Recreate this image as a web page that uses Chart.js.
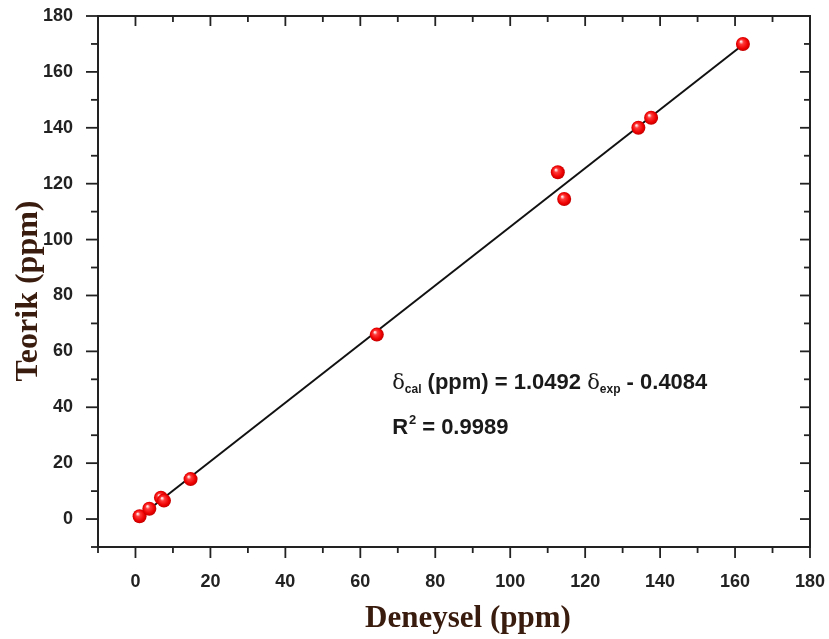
<!DOCTYPE html>
<html>
<head>
<meta charset="utf-8">
<script src="https://cdn.jsdelivr.net/npm/chart.js@4.4.1/dist/chart.umd.min.js"></script>
<style>
  html, body { margin: 0; padding: 0; background: #fff; }
  #wrap { width: 829px; height: 639px; }
</style>
</head>
<body>
<div id="wrap"><canvas id="chart" width="829" height="639"></canvas></div>
<script>
// values
const expValues = [1.1, 3.7, 6.8, 7.6, 14.7, 64.4, 112.7, 114.4, 134.2, 137.6, 162.1];
const calValues = [1.0, 3.7, 7.6, 6.6, 14.3, 66.0, 124.1, 114.5, 140.0, 143.6, 170.0];
const fitX = [1.1, 162.1];
const fitY = [0.8, 169.7];
const tickValues = [0, 20, 40, 60, 80, 100, 120, 140, 160, 180];

const xTitle = "Deneysel (ppm)";
const yTitle = "Teorik (ppm)";
const equationText = { a: "1.0492", b: "0.4084", r2: "0.9989" };

const titleColor = "#3a1c0e";
const tickColor = "#222";
const tickFont = { family: "'Liberation Sans', Arial, sans-serif", size: 18, weight: "bold" };

function sphere(ctx) {
  const chart = ctx.chart;
  const xs = chart.scales.x, ys = chart.scales.y;
  if (!xs || !ys || ctx.dataIndex === undefined) return "#e00";
  const cx = xs.getPixelForValue(expValues[ctx.dataIndex]);
  const cy = ys.getPixelForValue(calValues[ctx.dataIndex]);
  if (!Number.isFinite(cx) || !Number.isFinite(cy)) return "#e00";
  const g = chart.ctx.createRadialGradient(cx - 2, cy - 2.5, 0.5, cx, cy, 7.5);
  g.addColorStop(0, "#ffe6e6");
  g.addColorStop(0.25, "#ff3a3a");
  g.addColorStop(0.7, "#ee0000");
  g.addColorStop(1, "#b80000");
  return g;
}

// frame + ticks (major/minor): outward on left/bottom, inward on top/right
const framePlugin = {
  id: "frame",
  afterDraw(chart) {
    const { ctx, chartArea: a, scales } = chart;
    ctx.save();
    ctx.strokeStyle = tickColor;
    ctx.lineWidth = 2;
    ctx.strokeRect(a.left, a.top, a.right - a.left, a.bottom - a.top);
    ctx.lineWidth = 1.8;
    const line = (x1, y1, x2, y2) => {
      ctx.beginPath();
      ctx.moveTo(x1, y1);
      ctx.lineTo(x2, y2);
      ctx.stroke();
    };
    scales.x.ticks.forEach(t => {
      const px = scales.x.getPixelForValue(t.value);
      const major = t.value % 20 === 0;
      line(px, a.bottom, px, a.bottom + (major ? 11 : 6));
      line(px, a.top, px, a.top + (major ? 10 : 6));
    });
    scales.y.ticks.forEach(t => {
      const py = scales.y.getPixelForValue(t.value);
      const major = t.value % 20 === 0;
      line(a.left, py, a.left - (major ? 12 : 7), py);
      line(a.right, py, a.right - (major ? 10 : 6), py);
    });
    ctx.restore();
  }
};

// axis titles
const titlesPlugin = {
  id: "titles",
  afterDraw(chart) {
    const { ctx } = chart;
    ctx.save();
    ctx.fillStyle = titleColor;
    ctx.textAlign = "center";
    ctx.textBaseline = "alphabetic";
    ctx.font = "bold 31px 'Liberation Serif', 'Times New Roman', serif";
    ctx.fillText(xTitle, 468, 627);
    ctx.translate(37, 291);
    ctx.rotate(-Math.PI / 2);
    ctx.font = "bold 32px 'Liberation Serif', 'Times New Roman', serif";
    ctx.fillText(yTitle, 0, 0);
    ctx.restore();
  }
};

// equation text
const equationPlugin = {
  id: "equation",
  afterDraw(chart) {
    const { ctx, scales } = chart;
    const x0 = scales.x.getPixelForValue(68.5);
    let x = x0;
    const y1 = scales.y.getPixelForValue(46.7);
    const y2 = scales.y.getPixelForValue(30.4);
    ctx.save();
    ctx.fillStyle = "#1a1a1a";
    ctx.textBaseline = "alphabetic";
    const big = "bold 22px 'Liberation Sans', Arial, sans-serif";
    const sym = "21px 'DejaVu Serif', serif";
    const sub = "bold 12px 'Liberation Sans', Arial, sans-serif";
    const parts = [
      [sym, "δ", 0], [sub, "cal", 4], [big, " (ppm) = " + equationText.a + " ", 0],
      [sym, "δ", 0], [sub, "exp", 4], [big, " - " + equationText.b, 0]
    ];
    parts.forEach(([f, s, dy]) => {
      ctx.font = f;
      ctx.fillText(s, x, y1 + dy);
      x += ctx.measureText(s).width;
    });
    ctx.font = big;
    ctx.fillText("R", x0, y2);
    const w = ctx.measureText("R").width;
    ctx.font = "bold 13px 'Liberation Sans', Arial, sans-serif";
    ctx.fillText("2", x0 + w + 1, y2 - 10);
    ctx.font = big;
    ctx.fillText(" = " + equationText.r2, x0 + w + 8, y2);
    ctx.restore();
  }
};

new Chart(document.getElementById("chart"), {
  type: "scatter",
  data: {
    datasets: [
      {
        type: "line",
        data: fitX.map((v, i) => ({ x: v, y: fitY[i] })),
        borderColor: "#111",
        borderWidth: 2,
        pointRadius: 0,
        fill: false,
        order: 2
      },
      {
        data: expValues.map((v, i) => ({ x: v, y: calValues[i] })),
        pointRadius: 7,
        pointBorderWidth: 0,
        pointBackgroundColor: sphere,
        order: 1
      }
    ]
  },
  options: {
    responsive: false,
    animation: false,
    events: [],
    layout: { padding: { left: 0, right: 19, top: 16, bottom: 0 } },
    plugins: { legend: { display: false }, tooltip: { enabled: false } },
    scales: {
      x: {
        type: "linear",
        min: -10,
        max: 180,
        afterFit(s) {
          s.height = 92;
          s.paddingLeft = 0;
          s.paddingRight = 0;
        },
        grid: { display: false },
        border: { display: false },
        ticks: {
          stepSize: 10,
          padding: 16,
          maxRotation: 0,
          autoSkip: false,
          color: tickColor,
          font: tickFont,
          callback: v => tickValues.includes(v) ? v : ""
        }
      },
      y: {
        type: "linear",
        min: -10,
        max: 180,
        afterFit(s) {
          s.width = 98;
          s.paddingTop = 0;
          s.paddingBottom = 0;
        },
        grid: { display: false },
        border: { display: false },
        ticks: {
          stepSize: 10,
          padding: 17,
          autoSkip: false,
          color: tickColor,
          font: tickFont,
          callback: v => tickValues.includes(v) ? v : ""
        }
      }
    }
  },
  plugins: [framePlugin, titlesPlugin, equationPlugin]
});
</script>
</body>
</html>
